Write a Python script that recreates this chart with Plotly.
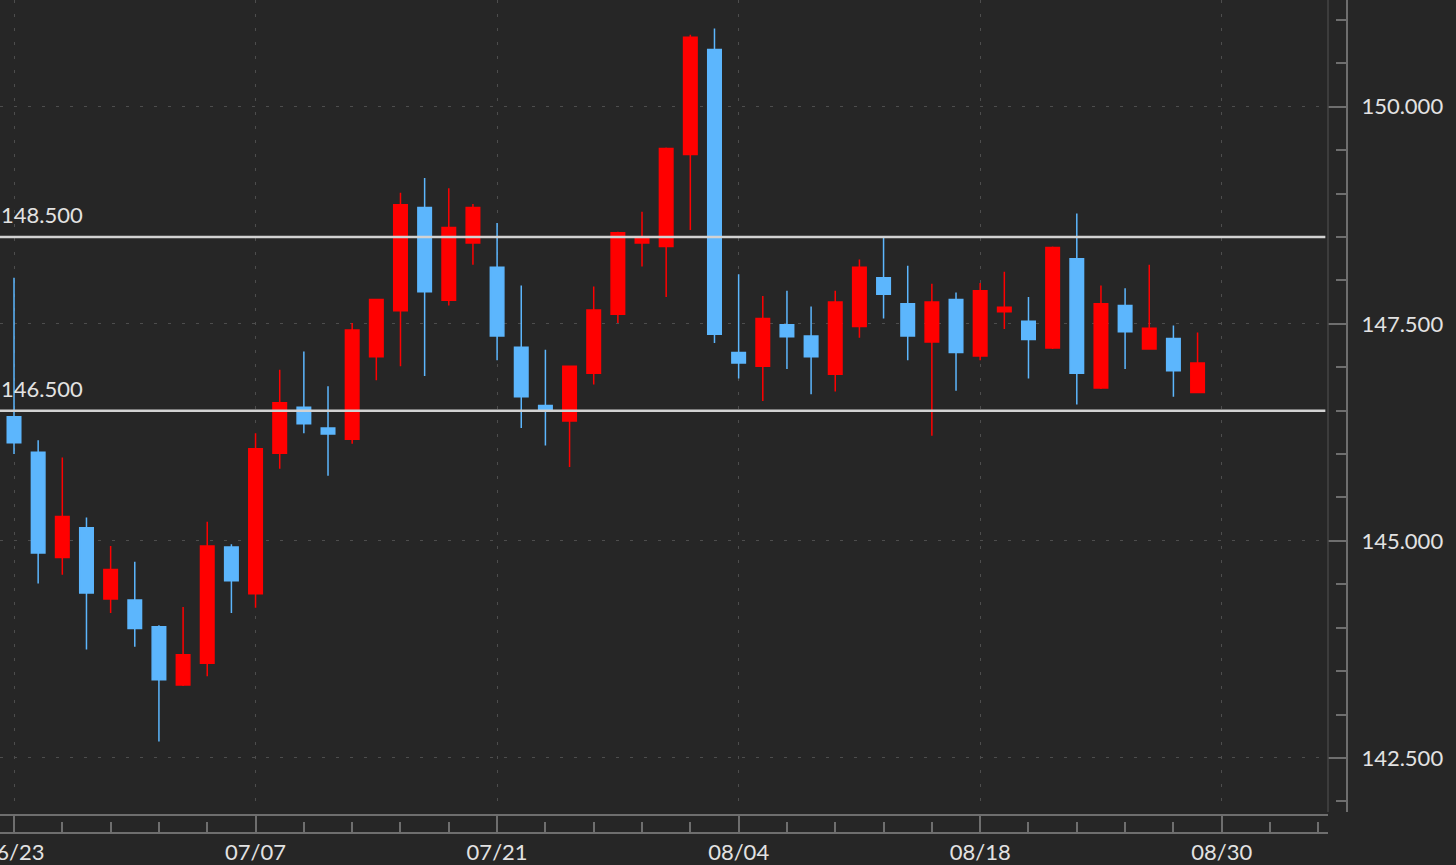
import plotly.graph_objects as go

# ---- data ----
dates = ["06/23","06/24","06/25","06/26","06/27","06/30","07/01","07/02","07/03","07/04",
         "07/07","07/08","07/09","07/10","07/11","07/14","07/15","07/16","07/17","07/18",
         "07/21","07/22","07/23","07/24","07/25","07/28","07/29","07/30","07/31","08/01",
         "08/04","08/05","08/06","08/07","08/08","08/11","08/12","08/13","08/14","08/15",
         "08/18","08/19","08/20","08/21","08/22","08/25","08/26","08/27","08/28","08/29"]
opens = [146.43,146.02,144.81,145.15,144.33,144.32,144.01,143.34,143.59,144.93,
         144.39,146.01,146.54,146.30,146.17,147.12,147.65,148.84,147.77,148.43,
         148.15,147.23,146.56,146.38,146.93,147.61,148.43,148.39,149.45,150.66,
         147.17,147.01,147.49,147.36,146.92,147.47,148.03,147.73,147.29,147.78,
         147.13,147.64,147.53,147.22,148.25,146.76,147.71,147.21,147.33,146.71]
highs = [148.03,146.16,145.96,145.27,144.94,144.76,144.03,144.24,145.22,144.96,
         146.24,146.97,147.18,146.78,147.51,147.79,149.01,149.18,149.06,148.88,
         148.66,147.94,147.20,147.02,147.93,148.56,148.79,149.53,150.83,150.90,
         148.07,147.82,147.88,147.70,147.88,148.24,148.50,148.17,147.96,147.86,
         147.97,148.10,147.81,148.39,148.77,147.94,147.91,148.18,147.48,147.40]
lows = [146.00,144.51,144.61,143.75,144.17,143.78,142.69,143.33,143.44,144.17,
        144.23,145.83,146.24,145.75,146.12,146.85,147.01,146.90,147.71,148.18,
        147.08,146.30,146.10,145.85,146.80,147.51,148.16,147.81,148.58,147.28,
        146.87,146.61,146.98,146.69,146.72,147.34,147.56,147.08,146.21,146.73,
        147.08,147.44,146.87,147.21,146.57,146.75,146.98,147.20,146.66,146.70]
closes = [146.13,144.86,145.28,144.40,144.67,143.99,143.40,143.69,144.94,144.54,
          146.06,146.59,146.35,146.23,147.43,147.78,148.87,147.87,148.61,148.84,
          147.36,146.66,146.51,147.01,147.66,148.55,148.49,149.52,150.80,147.38,
          147.05,147.56,147.35,147.12,147.75,148.15,147.84,147.36,147.75,147.17,
          147.88,147.69,147.32,148.38,146.93,147.73,147.41,147.45,146.96,147.05]

tick_labels = ["06/23", "07/07", "07/21", "08/04", "08/18", "08/30"]
tick_step = 10
y_ticks = [142.5, 145.0, 147.5, 150.0]
levels = [148.5, 146.5]

# ---- style ----
BG = "#262626"
UP = "#ff0000"
DOWN = "#5cb6fd"
GRID = "#4d4d4d"
AXIS = "#6e6e6e"
TXT = "#e2e2e2"
FONT = "Lato"

W, H = 1456, 865
plot_right = 1328
plot_bottom = 812
axis_line_y = 833
band_top_y = 815
yaxis_x = 1347

xs = list(range(len(dates)))

fig = go.Figure(go.Candlestick(
    x=xs, open=opens, high=highs, low=lows, close=closes,
    text=dates, hoverinfo="text+y",
    increasing=dict(line=dict(color=UP, width=1.5), fillcolor=UP),
    decreasing=dict(line=dict(color=DOWN, width=1.5), fillcolor=DOWN),
    whiskerwidth=0,
    showlegend=False,
))

for lv in levels:
    fig.add_shape(type="line", xref="x domain", yref="y", x0=0, x1=0.998, y0=lv, y1=lv,
                  line=dict(color="#d2d2d2", width=2.5), layer="above")
    fig.add_annotation(xref="paper", yref="y", x=0.0, y=lv, text=f"{lv:.3f}",
                       showarrow=False, xanchor="left", yanchor="bottom", yshift=7, xshift=-1,
                       font=dict(family=FONT, size=22, color=TXT))

# band top line and right plot edge
fig.add_shape(type="line", xref="x domain", yref="paper", x0=0, x1=1,
              y0=(H - band_top_y) / H, y1=(H - band_top_y) / H,
              line=dict(color=AXIS, width=2))
fig.add_shape(type="line", xref="x domain", yref="y domain", x0=1, x1=1, y0=0, y1=1,
              line=dict(color="#444444", width=1.5))

fig.update_layout(
    width=W, height=H,
    margin=dict(l=0, r=0, t=0, b=0, autoexpand=False),
    paper_bgcolor=BG, plot_bgcolor=BG,
    font=dict(family=FONT, size=22, color=TXT),
    boxgap=0.2,
    xaxis=dict(
        domain=[0, plot_right / W],
        range=[-0.58, 54.4],
        anchor="free", position=(H - axis_line_y) / H,
        automargin=False,
        rangeslider=dict(visible=False),
        showline=True, linecolor=AXIS, linewidth=2,
        ticks="inside", ticklen=18, tickwidth=2, tickcolor=AXIS,
        tickmode="array",
        tickvals=[i * tick_step for i in range(len(tick_labels))],
        ticktext=tick_labels,
        tickfont=dict(family=FONT, size=22, color=TXT),
        ticklabelstandoff=0,
        ticklabeloverflow="allow",
        showgrid=True, gridcolor=GRID, gridwidth=1, griddash="3px,11px",
        zeroline=False,
        minor=dict(ticks="inside", ticklen=10, tickwidth=2, tickcolor=AXIS,
                   tickmode="linear", tick0=0, dtick=2, showgrid=False),
    ),
    yaxis=dict(
        domain=[(H - plot_bottom) / H, 1],
        range=[141.878, 151.229],
        anchor="free", position=yaxis_x / W, side="right",
        automargin=False,
        showline=True, linecolor=AXIS, linewidth=2,
        ticks="inside", ticklen=18, tickwidth=2, tickcolor=AXIS,
        tickmode="array", tickvals=y_ticks, tickformat=".3f",
        tickfont=dict(family=FONT, size=22, color=TXT),
        ticklabelstandoff=9,
        ticklabeloverflow="allow",
        showgrid=True, gridcolor=GRID, gridwidth=1, griddash="3px,11px",
        zeroline=False,
        minor=dict(ticks="inside", ticklen=10, tickwidth=2, tickcolor=AXIS,
                   tickmode="linear", tick0=0, dtick=0.5, showgrid=False),
    ),
)

fig.write_html("out.html", config={"displayModeBar": False},
               post_script="document.body.style.margin='0';document.body.style.overflow='hidden';")
